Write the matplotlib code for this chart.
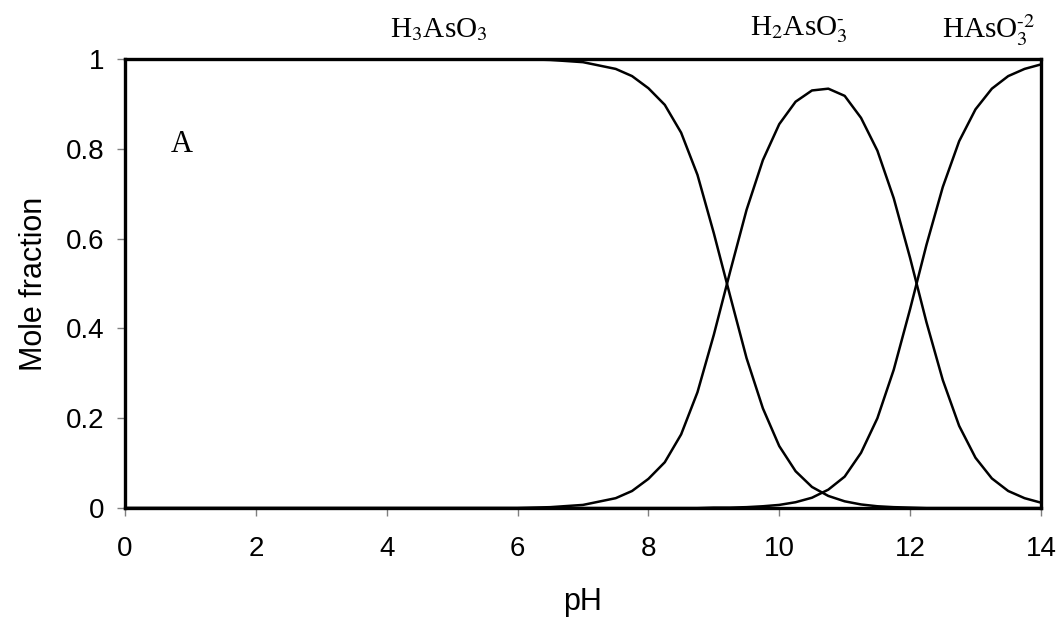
import matplotlib
matplotlib.use("Agg")
import matplotlib.pyplot as plt

# pH grid and mole fractions
ph = [0, 1, 2, 3, 4, 5, 6, 6.5, 7.0, 7.5, 7.75, 8.0, 8.25, 8.5, 8.75, 9.0, 9.25, 9.5,
      9.75, 10.0, 10.25, 10.5, 10.75, 11.0, 11.25, 11.5, 11.75, 12.0, 12.25, 12.5,
      12.75, 13.0, 13.25, 13.5, 13.75, 14.0]

h3aso3 = [1.0, 1.0, 1.0, 1.0, 1.0, 1.0, 1.0, 0.998, 0.993, 0.978, 0.962, 0.935, 0.898,
          0.836, 0.742, 0.612, 0.472, 0.334, 0.222, 0.138, 0.082, 0.047, 0.027, 0.015,
          0.008, 0.004, 0.002, 0.001, 0.0, 0.0, 0.0, 0.0, 0.0, 0.0, 0.0, 0.0]

h2aso3 = [0.0, 0.0, 0.0, 0.0, 0.0, 0.0, 0.0, 0.002, 0.007, 0.022, 0.038, 0.065, 0.102,
          0.164, 0.258, 0.386, 0.527, 0.664, 0.775, 0.855, 0.905, 0.930, 0.934, 0.918,
          0.869, 0.796, 0.690, 0.557, 0.414, 0.285, 0.183, 0.112, 0.066, 0.038, 0.022,
          0.012]

haso3 = [0.0, 0.0, 0.0, 0.0, 0.0, 0.0, 0.0, 0.0, 0.0, 0.0, 0.0, 0.0, 0.0,
         0.0, 0.0, 0.001, 0.001, 0.002, 0.004, 0.007, 0.013, 0.023, 0.041, 0.070,
         0.123, 0.200, 0.308, 0.443, 0.586, 0.715, 0.817, 0.888, 0.934, 0.962, 0.978,
         0.988]

species = [r"H$_3$AsO$_3$", r"H$_2$AsO$_3^{\text{-}}$", r"HAsO$_3^{\text{-2}}$"]
species_x = [4.8, 10.3, 13.2]

plt.rcParams["font.family"] = ["Liberation Sans", "DejaVu Sans"]
plt.rcParams["mathtext.fontset"] = "stix"

fig = plt.figure(figsize=(10.6, 6.28), dpi=100)
ax = fig.add_axes([0.118, 0.191, 0.864, 0.715])

for series in (h3aso3, h2aso3, haso3):
    ax.plot(ph, series, color="black", linewidth=1.8)

ax.set_xlim(0, 14)
ax.set_ylim(0, 1)
ax.set_xticks(range(0, 15, 2))
ax.set_yticks([0, 0.2, 0.4, 0.6, 0.8, 1])
ax.set_yticklabels(["0", "0.2", "0.4", "0.6", "0.8", "1"])

for s in ax.spines.values():
    s.set_linewidth(2.4)
    s.set_color("black")

ax.tick_params(axis="both", direction="out", length=6, width=1, color="#808080",
               labelsize=20)
ax.tick_params(axis="x", pad=14)
ax.tick_params(axis="y", pad=9)

ax.set_xlabel("pH", fontsize=22, labelpad=18)
ax.set_ylabel("Mole fraction", fontsize=22, labelpad=12)

for label, x in zip(species, species_x):
    ax.text(x, 1.065, label, ha="center", va="center", fontsize=21,
            family="Liberation Serif", clip_on=False)

ax.text(0.87, 0.81, "A", ha="center", va="center", fontsize=22, family="Liberation Serif")

fig.savefig("out.png", dpi=100)
